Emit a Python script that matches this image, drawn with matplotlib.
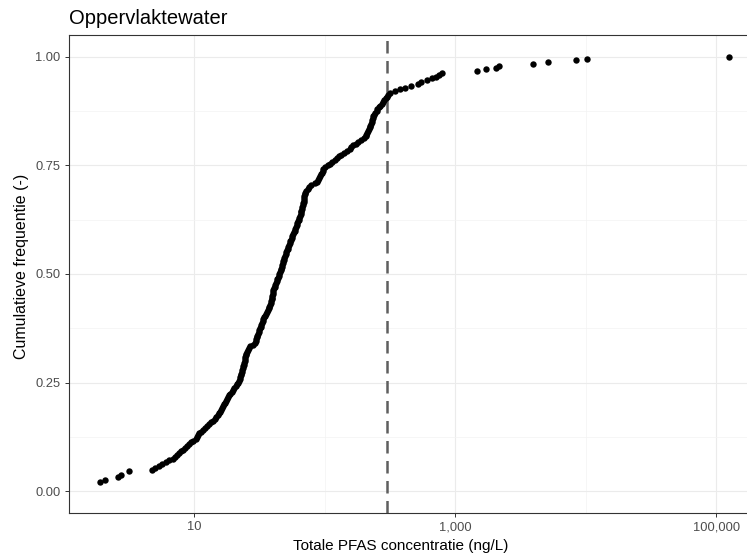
import matplotlib
matplotlib.use("Agg")
import matplotlib.pyplot as plt
from matplotlib.ticker import FixedLocator, FuncFormatter, NullFormatter
import numpy as np

# Totale PFAS concentratie per monster (ng/L), gesorteerd
concentrations = [
    1.9, 1.9, 1.9, 1.9, 1.9, 2.05, 2.6, 2.6, 2.75, 3.15,
    3.15, 4.7, 4.95, 5.3, 5.6, 6.0, 6.4, 6.8, 7.1, 7.35,
    7.6, 7.85, 8.1, 8.4, 8.7, 9.1, 9.45, 9.8, 10.2, 10.5,
    10.7, 10.9, 11.2, 11.6, 12.0, 12.4, 12.9, 13.4, 13.9, 14.3,
    14.7, 15.1, 15.5, 15.8, 16.1, 16.4, 16.6, 16.9, 17.1, 17.4,
    17.7, 18.0, 18.4, 18.8, 19.3, 19.8, 20.2, 20.7, 21.1, 21.5,
    21.9, 22.3, 22.5, 22.7, 22.9, 23.1, 23.3, 23.5, 23.7, 23.8,
    24.0, 24.2, 24.4, 24.6, 24.8, 25.0, 25.3, 25.7, 26.1, 26.6,
    27.9, 29.0, 29.4, 29.7, 30.0, 30.4, 30.7, 31.0, 31.4, 31.8,
    32.2, 32.6, 33.0, 33.4, 33.8, 34.4, 34.9, 35.5, 36.0, 36.6,
    37.1, 37.5, 37.9, 38.3, 38.7, 39.1, 39.3, 39.5, 39.8, 40.0,
    40.2, 40.5, 41.1, 41.6, 42.2, 42.7, 43.2, 43.7, 44.3, 44.8,
    45.3, 45.8, 46.2, 46.7, 47.2, 47.6, 48.1, 48.5, 49.0, 49.5,
    50.1, 50.7, 51.3, 51.9, 52.6, 53.2, 53.8, 54.4, 55.1, 55.8,
    56.4, 57.1, 57.8, 58.5, 59.3, 60.0, 60.8, 61.5, 62.3, 63.0,
    63.8, 64.5, 65.1, 65.6, 66.1, 66.7, 67.2, 67.7, 68.3, 68.7,
    69.0, 69.4, 69.7, 70.1, 70.5, 72.0, 73.8, 75.5, 78.5, 83.5,
    87.0, 88.5, 90.0, 91.6, 93.0, 94.5, 96.0, 97.5, 101, 106,
    110, 114, 119, 124, 129, 134, 141, 148, 156, 159,
    165, 173, 181, 190, 199, 205, 208, 211, 214, 217,
    220, 223, 226, 228, 231, 233, 236, 240, 244, 249,
    253, 258, 265, 272, 279, 286, 293, 300, 307, 316,
    345, 380, 410, 455, 515, 550, 610, 665, 715, 750,
    794, 1475, 1710, 2040, 2170, 3980, 5100, 8400, 10200, 125000,
]
threshold = 300  # ng/L, gestippelde lijn

x_breaks = [10, 1000, 100000]
x_minor = [100, 10000]
y_breaks = [0.0, 0.25, 0.5, 0.75, 1.0]
y_minor = [0.125, 0.375, 0.625, 0.875]

plt.rcParams["font.family"] = ["Liberation Sans", "DejaVu Sans"]

# ecdf on unique values, like stat_ecdf(geom = "point")
conc = np.sort(np.array(concentrations, dtype=float))
xs = np.unique(conc)
ys = np.searchsorted(conc, xs, side="right") / len(conc)

fig = plt.figure(figsize=(7.47, 5.56), dpi=100)
log_lo, log_hi = np.log10(xs.min()), np.log10(xs.max())
pad = 0.05 * (log_hi - log_lo)
xlim = (10 ** (log_lo - pad), 10 ** (log_hi + pad))
# 130.4 px per decade, right side runs past the figure edge
width_px = (log_hi - log_lo + 2 * pad) * 130.4
ax = fig.add_axes([69 / 747, 43 / 556, width_px / 747, 478 / 556])

ax.set_xscale("log")
ax.set_xlim(*xlim)
ax.set_ylim(-0.05, 1.05)

ax.xaxis.set_major_locator(FixedLocator(x_breaks))
ax.xaxis.set_minor_locator(FixedLocator(x_minor))
ax.xaxis.set_major_formatter(FuncFormatter(lambda v, p: f"{v:,.0f}"))
ax.xaxis.set_minor_formatter(NullFormatter())
ax.yaxis.set_major_locator(FixedLocator(y_breaks))
ax.yaxis.set_minor_locator(FixedLocator(y_minor))
ax.yaxis.set_major_formatter(FuncFormatter(lambda v, p: f"{v:.2f}"))
ax.yaxis.set_minor_formatter(NullFormatter())

ax.grid(True, which="major", color="#ebebeb", linewidth=0.8, zorder=0)
ax.grid(True, which="minor", color="#f3f3f3", linewidth=0.5, zorder=0)
ax.set_axisbelow(True)

ax.tick_params(which="major", length=3, width=0.7, color="#333333",
               labelsize=9.3, labelcolor="#4d4d4d", pad=3)
ax.tick_params(which="minor", length=0)
for side in ax.spines.values():
    side.set_color("#333333")
    side.set_linewidth(0.8)

ax.plot(xs, ys, "o", color="black", markersize=4.6, markeredgewidth=0, zorder=3)
ax.axvline(threshold, color="#5f5f5f", linewidth=1.8, dashes=(5, 3), zorder=2)

ax.set_xlabel("Totale PFAS concentratie (ng/L)", fontsize=11)
ax.set_ylabel("Cumulatieve frequentie (-)", fontsize=11.5)
# label centres as in the reference (x ~ 401 px, y ~ 266 px)
ax.xaxis.set_label_coords((401 - 69) / width_px, -26 / 478)
ax.yaxis.set_label_coords(-40 / width_px, (513 - 266) / 478)
fig.text(69 / 747, 1 - 24 / 556, "Oppervlaktewater", fontsize=14.5,
         ha="left", va="baseline")

fig.savefig("out.png", dpi=100)
